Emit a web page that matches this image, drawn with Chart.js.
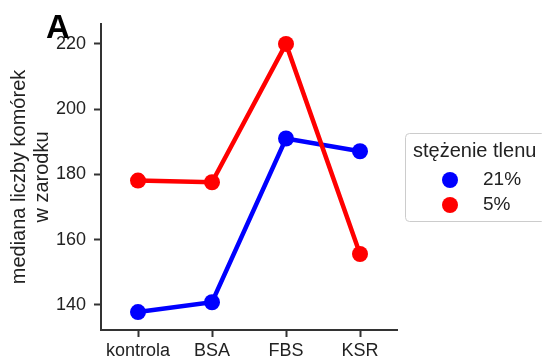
<!DOCTYPE html>
<html>
<head>
<meta charset="utf-8">
<script src="https://cdn.jsdelivr.net/npm/chart.js@4"></script>
<style>
  html, body { margin: 0; padding: 0; background: #fff; }
  #wrap { width: 542px; height: 361px; position: relative; }
</style>
</head>
<body>
<div id="wrap"><canvas id="chart"></canvas></div>
<script>
// data
const categories = ['kontrola', 'BSA', 'FBS', 'KSR'];
const seriesLabels = ['21%', '5%'];
const oxygen21 = [137.8, 140.8, 191.0, 187.1];
const oxygen5 = [178.1, 177.6, 220.0, 155.6];
const yTicks = [140, 160, 180, 200, 220];
const yTitle = ['mediana liczby komórek', 'w zarodku'];
const legendTitle = 'stężenie tlenu';
const panelLetter = 'A';

const FONT = '"Liberation Sans", Arial, sans-serif';
const AXIS_COLOR = '#333';

// draws the panel letter and the boxed legend to the right of the plot
const extrasPlugin = {
    id: 'extras',
    afterDraw(chart) {
        const ctx = chart.ctx;
        ctx.save();
        // panel letter
        ctx.fillStyle = '#000';
        ctx.font = 'bold 33px ' + FONT;
        ctx.textBaseline = 'alphabetic';
        ctx.textAlign = 'left';
        ctx.fillText(panelLetter, 46, 38);

        // legend box
        const bx = 405.5, by = 133.5, bw = 140, bh = 88;
        ctx.strokeStyle = '#ccc';
        ctx.lineWidth = 1;
        ctx.beginPath();
        ctx.roundRect(bx, by, bw, bh, 4);
        ctx.stroke();

        ctx.fillStyle = '#222';
        ctx.font = '20px ' + FONT;
        ctx.textBaseline = 'middle';
        ctx.fillText(legendTitle, 413, 151);

        ctx.font = '19px ' + FONT;
        chart.data.datasets.forEach((ds, i) => {
            const y = 180 + i * 25;
            ctx.fillStyle = ds.borderColor;
            ctx.beginPath();
            ctx.arc(450, y, 8, 0, Math.PI * 2);
            ctx.fill();
            ctx.fillStyle = '#222';
            ctx.fillText(ds.label, 483, y);
        });
        ctx.restore();
    }
};

new Chart(document.getElementById('chart'), {
    type: 'line',
    data: {
        labels: categories,
        datasets: [
            {
                label: seriesLabels[0],
                data: oxygen21,
                borderColor: '#0000ff',
                backgroundColor: '#0000ff',
                borderWidth: 4.5,
                pointRadius: 8,
                pointHoverRadius: 8,
                pointBorderWidth: 0,
                order: 2
            },
            {
                label: seriesLabels[1],
                data: oxygen5,
                borderColor: '#ff0000',
                backgroundColor: '#ff0000',
                borderWidth: 4.5,
                pointRadius: 8,
                pointHoverRadius: 8,
                pointBorderWidth: 0,
                order: 1
            }
        ]
    },
    options: {
        responsive: true,
        maintainAspectRatio: false,
        animation: false,
        layout: {
            padding: { top: 24, right: 145, left: 0, bottom: 0 }
        },
        plugins: {
            legend: { display: false },
            tooltip: { enabled: false }
        },
        scales: {
            x: {
                offset: true,
                grid: {
                    display: true,
                    drawOnChartArea: false,
                    drawTicks: true,
                    tickLength: 7,
                    tickWidth: 2,
                    color: AXIS_COLOR
                },
                border: { display: true, color: AXIS_COLOR, width: 2 },
                ticks: {
                    color: '#222',
                    padding: 3,
                    font: { family: FONT, size: 18 }
                },
                afterFit(scale) { scale.height = 31; }
            },
            y: {
                min: 132.3,
                max: 226.1,
                grid: {
                    display: true,
                    drawOnChartArea: false,
                    drawTicks: true,
                    tickLength: 7,
                    tickWidth: 2,
                    color: AXIS_COLOR
                },
                border: { display: true, color: AXIS_COLOR, width: 2 },
                ticks: {
                    color: '#222',
                    padding: 8,
                    font: { family: FONT, size: 18 }
                },
                afterBuildTicks(scale) {
                    scale.ticks = yTicks.map(v => ({ value: v }));
                },
                title: {
                    display: true,
                    text: yTitle,
                    color: '#222',
                    padding: { top: 8, bottom: 4 },
                    font: { family: FONT, size: 20, lineHeight: 1.15 }
                },
                afterFit(scale) { scale.width = 101; }
            }
        }
    },
    plugins: [extrasPlugin]
});
</script>
</body>
</html>
